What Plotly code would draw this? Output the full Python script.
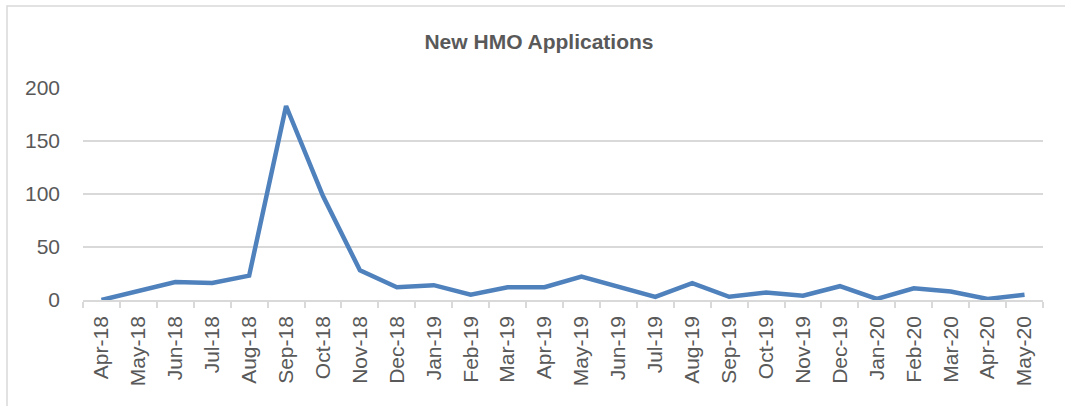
import plotly.graph_objects as go

months = ["Apr-18", "May-18", "Jun-18", "Jul-18", "Aug-18", "Sep-18", "Oct-18", "Nov-18",
          "Dec-18", "Jan-19", "Feb-19", "Mar-19", "Apr-19", "May-19", "Jun-19", "Jul-19",
          "Aug-19", "Sep-19", "Oct-19", "Nov-19", "Dec-19", "Jan-20", "Feb-20", "Mar-20",
          "Apr-20", "May-20"]
applications = [0, 9, 17, 16, 23, 183, 98, 28, 12, 14, 5, 12, 12, 22, 13, 3, 16, 3, 7, 4,
                13, 1, 11, 8, 1, 5]
y_ticks = [0, 50, 100, 150, 200]

W, H = 1065, 406
L, R, T, B = 83, 22, 88, 106
pw, ph = W - L - R, H - T - B

fig = go.Figure()
fig.add_trace(go.Scatter(x=months, y=applications, mode="lines",
                         line=dict(color="#4f81bd", width=4.5), hoverinfo="x+y"))

txt = "#595959"
fig.update_layout(
    width=W, height=H,
    margin=dict(l=L, r=R, t=T, b=B, autoexpand=False),
    paper_bgcolor="white", plot_bgcolor="white",
    showlegend=False,
    font=dict(family="Liberation Sans, Arial, sans-serif", color=txt),
    title=dict(text="<b>New HMO Applications</b>", x=539 / W, xanchor="center",
               y=1 - 42 / H, yanchor="middle", font=dict(size=21, color=txt)),
    xaxis=dict(type="category", categoryorder="array", categoryarray=months,
               range=[-0.5, len(months) - 0.5], autorange=False,
               tickangle=-90, tickfont=dict(size=21, color=txt),
               showgrid=False, showline=True, linecolor="#d9d9d9", linewidth=1.5,
               ticks="outside", tickson="boundaries", ticklen=6, tickcolor="#d9d9d9",
               tickwidth=1.5, ticklabelstandoff=6,
               zeroline=False, automargin=False),
    yaxis=dict(range=[0, 200], tickvals=y_ticks, tickfont=dict(size=21, color=txt),
               showgrid=True, gridcolor="#d9d9d9", gridwidth=1.5,
               showline=False, zeroline=False, ticks="", ticklabelstandoff=22,
               automargin=False),
    shapes=[dict(type="rect", xref="paper", yref="paper",
                 x0=(7 - L) / pw, x1=(W + 5 - L) / pw,
                 y0=1 - (H + 5 - T) / ph, y1=1 + (T - 6) / ph,
                 line=dict(color="#d9d9d9", width=1.5), fillcolor="rgba(0,0,0,0)",
                 layer="below")],
)

fig.write_html("out.html", config={"displayModeBar": False},
               post_script="document.body.style.margin='0';document.body.style.overflow='hidden';")
